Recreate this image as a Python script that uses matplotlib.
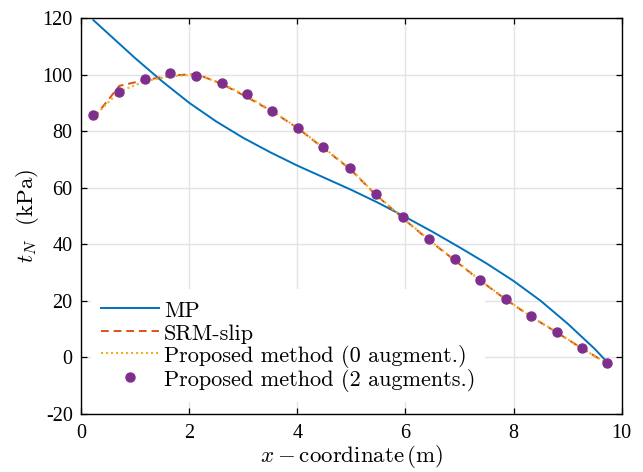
"""
Normal contact traction along the slip surface: MP vs SRM-slip vs proposed method.
"""

import matplotlib
matplotlib.use("Agg")
import matplotlib.pyplot as plt

plt.rcParams["font.family"] = "cmr10"
plt.rcParams["mathtext.fontset"] = "cm"
plt.rcParams["axes.formatter.use_mathtext"] = True

# ---------------------------------------------------------------------------
# Data
# ---------------------------------------------------------------------------

mp_x = [0.23, 0.5, 1.0, 1.5, 2.0, 2.5, 3.0, 3.5, 4.0, 4.5, 5.0,
        5.5, 6.0, 6.5, 7.0, 7.5, 8.0, 8.5, 9.0, 9.5, 9.72]
mp_y = [119.2, 114.5, 105.8, 97.6, 90.0, 83.4, 77.6, 72.5, 67.8, 63.5, 59.2,
        54.6, 49.6, 44.4, 38.9, 33.2, 27.0, 20.0, 11.9, 3.0, -1.5]

pt_x = [0.23, 0.71, 1.18, 1.65, 2.13, 2.60, 3.07, 3.54, 4.01, 4.48, 4.98,
        5.45, 5.95, 6.43, 6.91, 7.38, 7.86, 8.32, 8.80, 9.26, 9.72]

srm_y = [84.5, 96.0, 98.0, 99.6, 100.2, 96.7, 92.0, 86.9, 81.0, 74.0, 66.5,
         57.5, 49.2, 41.5, 34.3, 27.2, 20.4, 14.4, 8.8, 3.2, -2.0]

aug0_y = [85.0, 94.0, 97.6, 99.4, 99.9, 96.9, 92.4, 87.0, 81.1, 74.2, 66.7,
          57.6, 49.4, 41.6, 34.5, 27.3, 20.5, 14.5, 8.9, 3.2, -2.0]

aug2_y = [85.7, 93.8, 98.3, 100.7, 99.3, 96.9, 93.1, 87.2, 81.1, 74.3, 66.8,
          57.7, 49.6, 41.8, 34.7, 27.4, 20.6, 14.6, 9.0, 3.3, -2.0]

x_ticks = [0, 2, 4, 6, 8, 10]
x_tick_labels = ["0", "2", "4", "6", "8", "10"]
y_ticks = [-20, 0, 20, 40, 60, 80, 100, 120]
y_tick_labels = ["-20", "0", "20", "40", "60", "80", "100", "120"]

# ---------------------------------------------------------------------------
# Figure
# ---------------------------------------------------------------------------

fig = plt.figure(figsize=(6.43, 4.72), dpi=100)
ax = fig.add_axes([0.126, 0.123, 0.841, 0.839])

ax.plot(mp_x, mp_y, color="#0072BD", lw=1.4, label="MP")
ax.plot(pt_x, srm_y, color="#D95319", lw=1.4, ls=(0, (4, 2.5)), label="SRM-slip")
ax.plot(pt_x, aug0_y, color="#EDB120", lw=1.5, ls=(0, (1, 1.4)),
        label="Proposed method (0 augment.)")
ax.plot(pt_x, aug2_y, ls="none", marker="o", ms=6.5, color="#7E2F8E",
        mec="#7E2F8E", label="Proposed method (2 augments.)")

ax.set_xlim(0, 10)
ax.set_ylim(-20, 120)
ax.set_xticks(x_ticks)
ax.set_xticklabels(x_tick_labels, family="Liberation Serif", fontsize=14.5)
ax.set_yticks(y_ticks)
ax.set_yticklabels(y_tick_labels, family="Liberation Serif", fontsize=14.5)
ax.tick_params(direction="in", length=4, width=0.9, top=True, right=True)
ax.tick_params(axis="x", pad=7)
ax.tick_params(axis="y", pad=6)
ax.grid(True, color="#e3e3e3", lw=1.0)
ax.set_axisbelow(True)
for sp in ax.spines.values():
    sp.set_linewidth(1.0)

ax.set_xlabel(r"$x-$coordinate$\,$(m)", fontsize=16.5, labelpad=0)
ax.set_ylabel(r"$t_N$  (kPa)", fontsize=16.5, labelpad=1)

leg = ax.legend(loc="lower left", bbox_to_anchor=(0.018, 0.03), fontsize=16,
                frameon=True, fancybox=False, framealpha=1.0,
                handlelength=2.6, handletextpad=0.25, labelspacing=0.0,
                handleheight=1.1, borderpad=0.45, borderaxespad=0.0)
leg.get_frame().set_edgecolor("none")
leg.get_frame().set_facecolor("white")

fig.savefig("out.png", dpi=100)
